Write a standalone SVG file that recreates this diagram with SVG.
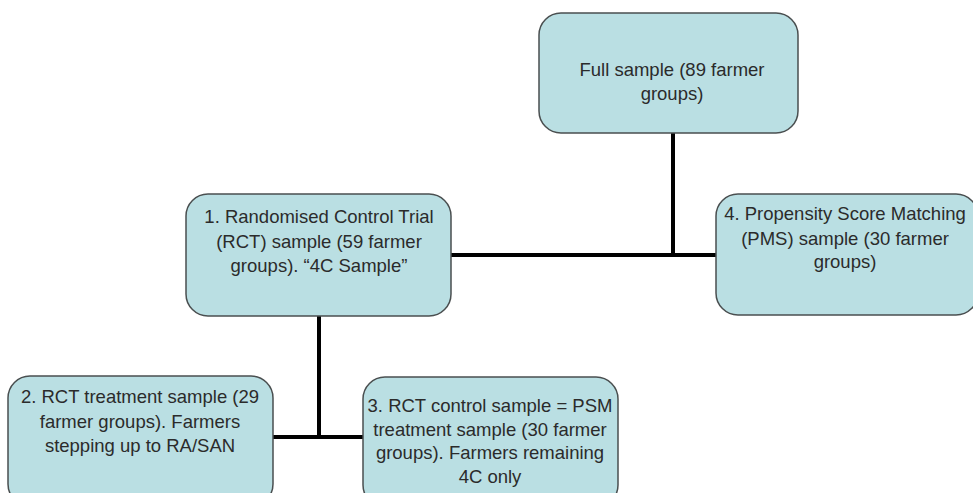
<svg xmlns="http://www.w3.org/2000/svg" width="973" height="493" viewBox="0 0 973 493">
<style>
.box{fill:#badfe3;stroke:#4a4f50;stroke-width:1.5}
.t{font-family:"Liberation Sans",Arial,sans-serif;font-size:18.5px;fill:#2b2b2b;text-anchor:middle}
.c{stroke:#000;stroke-width:4;fill:none}
</style>
<rect width="973" height="493" fill="#fff"/>
<g id="connectors">
<path class="c" d="M673 133V255M451 255H716"/>
<path class="c" d="M319 316V437M273 437H363"/>
</g>
<g id="full">
<rect class="box" x="539" y="13" width="259" height="120" rx="22"/>
<text class="t" x="672" y="76">Full sample (89 farmer</text>
<text class="t" x="672" y="100">groups)</text>
</g>
<g id="rct">
<rect class="box" x="186" y="194" width="265" height="122" rx="22"/>
<text class="t" x="319" y="223">1. Randomised Control Trial</text>
<text class="t" x="319" y="248">(RCT) sample (59 farmer</text>
<text class="t" x="319" y="272">groups). “4C Sample”</text>
</g>
<g id="pms">
<rect class="box" x="716" y="194" width="262" height="121" rx="22"/>
<text class="t" x="845" y="220">4. Propensity Score Matching</text>
<text class="t" x="845" y="245">(PMS) sample (30 farmer</text>
<text class="t" x="845" y="268">groups)</text>
</g>
<g id="treat">
<rect class="box" x="8" y="376" width="265" height="130" rx="22"/>
<text class="t" x="140" y="403">2. RCT treatment sample (29</text>
<text class="t" x="140" y="428">farmer groups). Farmers</text>
<text class="t" x="140" y="452">stepping up to RA/SAN</text>
</g>
<g id="control">
<rect class="box" x="363" y="377" width="255" height="130" rx="22"/>
<text class="t" x="490" y="412">3. RCT control sample = PSM</text>
<text class="t" x="490" y="436">treatment sample (30 farmer</text>
<text class="t" x="490" y="459">groups). Farmers remaining</text>
<text class="t" x="490" y="483">4C only</text>
</g>
</svg>
